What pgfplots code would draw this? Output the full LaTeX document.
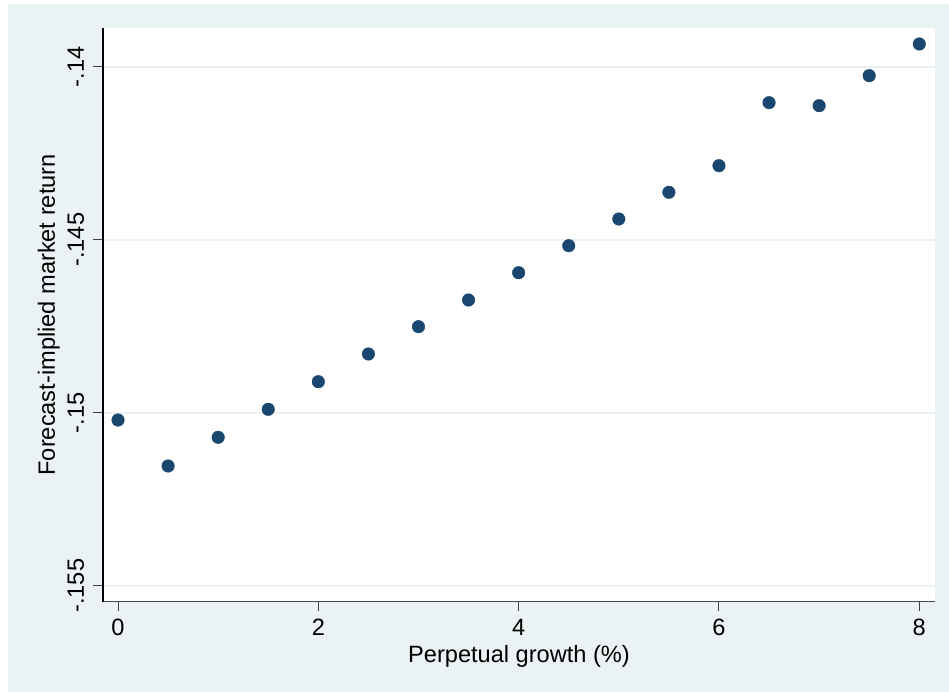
\documentclass[border=0pt]{standalone}
\usepackage{pgfplots}
\pgfplotsset{compat=1.18}
\usepackage{fontspec}
\setmainfont{Liberation Sans}
\definecolor{bgc}{HTML}{EAF2F3}
\definecolor{navy}{HTML}{1A476F}
\pgfplotstableread{
x y
0   -0.150211
0.5 -0.151540
1   -0.150711
1.5 -0.149902
2   -0.149104
2.5 -0.148303
3   -0.147514
3.5 -0.146743
4   -0.145954
4.5 -0.145173
5   -0.144402
5.5 -0.143630
6   -0.142861
6.5 -0.141040
7   -0.141127
7.5 -0.140260
8   -0.139344
}\datatable
\begin{document}
\begin{tikzpicture}
\fill[white] (0pt,0pt) rectangle (949pt,-692pt);
\fill[bgc] (8pt,-4pt) rectangle (949pt,-692pt);
\begin{axis}[
  at={(103pt,-601.7pt)}, anchor=south west,
  scale only axis, width=832pt, height=573.7pt,
  xmin=-0.1498, xmax=8.157, ymin=-0.155462, ymax=-0.138882,
  axis background/.style={fill=white},
  axis x line*=bottom, axis y line*=left,
  x axis line style={-, draw=black!72, line width=1.3pt},
  y axis line style={-, draw=black, line width=1.3pt},
  xtick={0,2,4,6,8}, xticklabels={0,2,4,6,8},
  ytick={-0.155,-0.15,-0.145,-0.14}, yticklabels={-.155,-.15,-.145,-.14},
  tick align=outside, major tick length=9.5pt,
  tick style={black!75, line width=1pt},
  ymajorgrids, major grid style={bgc, line width=1.8pt},
  every tick label/.append style={font=\fontsize{23.6}{28}\selectfont, inner sep=0pt},
  xticklabel style={anchor=base, yshift=-23.8pt},
  yticklabel style={rotate=90, anchor=base, yshift=9.5pt},
  every axis x label/.style={at={(axis description cs:0.5,-0.1051)}, anchor=base, font=\fontsize{23.6}{28}\selectfont},
  every axis y label/.style={at={(axis description cs:-0.0577,0.5)}, rotate=90, anchor=base, font=\fontsize{23.6}{28}\selectfont},
  xlabel={Perpetual growth (\%)},
  ylabel={Forecast-implied market return},
  clip=false,
]
\addplot[only marks, mark=*, mark size=6.3pt, mark options={fill=navy, draw=navy}] table[x=x,y=y] {\datatable};
\end{axis}
\end{tikzpicture}
\end{document}
